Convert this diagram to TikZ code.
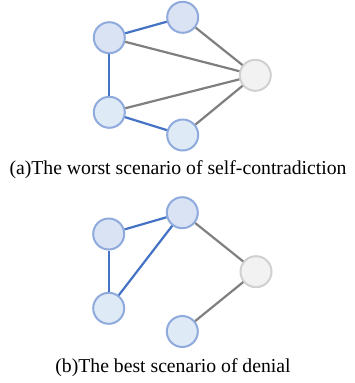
\documentclass[tikz,border=0pt]{standalone}
\usepackage{fontspec}
\setmainfont{Liberation Serif}
\definecolor{nfillA}{HTML}{DAE3F3}
\definecolor{nfillB}{HTML}{DEEBF7}
\definecolor{nborder}{HTML}{8FAADC}
\definecolor{gfill}{HTML}{F2F2F2}
\definecolor{gborder}{HTML}{D0D0D0}
\definecolor{bedge}{HTML}{4472C4}
\definecolor{gedge}{HTML}{7F7F7F}
\begin{document}
\begin{tikzpicture}[x=1pt,y=-1pt,
  bnode/.style={circle,draw=nborder,fill=nfillA,line width=2pt,minimum size=31pt,inner sep=0pt},
  bnodel/.style={bnode,fill=nfillB},
  gnode/.style={circle,draw=gborder,fill=gfill,line width=2pt,minimum size=31pt,inner sep=0pt},
  bline/.style={draw=bedge,line width=2.2pt},
  gline/.style={draw=gedge,line width=2.2pt},
  captext/.style={anchor=base,inner sep=0pt,font=\fontsize{19.7pt}{22pt}\selectfont}]
\useasboundingbox (0,0) rectangle (354,383);
% (a)
\node[bnode]  (a1) at (109.3,37.7) {};
\node[bnode]  (a2) at (182.7,17.3) {};
\node[bnodel] (a3) at (109.3,112.3) {};
\node[bnodel] (a4) at (182.7,135) {};
\node[gnode]  (a5) at (255.3,75.3) {};
\draw[gline] (a1) -- (a5);
\draw[gline] (a2) -- (a5);
\draw[gline] (a3) -- (a5);
\draw[gline] (a4) -- (a5);
\draw[bline] (a1) -- (a2);
\draw[bline] (a1) -- (a3);
\draw[bline] (a3) -- (a4);
\node[captext] (capa) at (178,174.2) {(a)The worst scenario of self-contradiction};
% (b)
\node[bnode]  (b1) at (108.7,234) {};
\node[bnode]  (b2) at (182.3,212.7) {};
\node[bnodel] (b3) at (108.7,308.3) {};
\node[bnodel] (b4) at (182.3,331.5) {};
\node[gnode]  (b5) at (256,271.7) {};
\draw[gline] (b2) -- (b5);
\draw[gline] (b4) -- (b5);
\draw[bline] (b1) -- (b2);
\draw[bline] (b1) -- (b3);
\draw[bline] (b3) -- (b2);
\node[captext] (capb) at (173,372.5) {(b)The best scenario of denial};
\end{tikzpicture}
\end{document}
